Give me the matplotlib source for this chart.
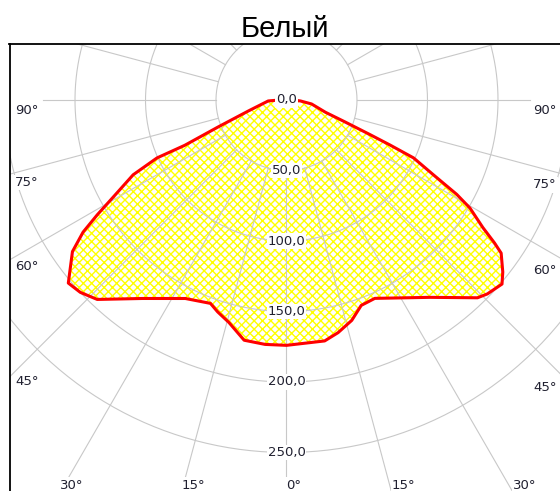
import numpy as np
import matplotlib.pyplot as plt

# данные кривой силы света
title = "Белый"
angles = [-90, -87, -74, -68.5, -66, -65.9, -64, -61, -58.75, -57, -54.7, -50, -47, -43.5,
          -36, -27, -20.5, -18, -14.5, -10, -5, 0, 9, 12.5, 16.5, 20, 24, 36, 44, 46,
          49.5, 51.5, 54.5, 55.5, 57, 59.5, 61, 63, 65.5, 66.5, 67.5, 69.5, 72.5, 81, 86, 90]
intensity = [5, 13, 28, 52, 79, 100.6, 121, 139, 157, 172, 186, 202, 200, 195,
             174, 158, 154, 158, 163, 173, 174, 174, 173, 169, 163, 155, 154, 173, 195, 198,
             201, 196, 187, 179, 166, 151, 138, 117, 99, 80, 64, 44, 29, 18, 10, 5]
rings = [0, 50, 100, 150, 200, 250]
ring_labels = ["0,0", "50,0", "100,0", "150,0", "200,0", "250,0"]
side_ticks = [90, 75, 60, 45]
bottom_ticks = [-30, -15, 0, 15, 30]

# пиксели -> данные
W, H = 560, 491
cx, cy, k = 286.5, 100, 1.41
grid_c = '#c8c8c8'
txt_c = '#202030'

fig = plt.figure(figsize=(W / 100, H / 100), dpi=100)
ax = fig.add_axes([9.5 / W, 1 - 520 / H, (600 - 9.5) / W, (520 - 44) / H])
ax.set_xlim((9.5 - cx) / k, (600 - cx) / k)
ax.set_ylim((cy - 520) / k, (cy - 44) / k)
ax.set_xticks([])
ax.set_yticks([])
for s in ['left', 'top']:
    ax.spines[s].set_linewidth(1.3)

# сетка: окружности
t = np.linspace(0, 2 * np.pi, 400)
for r in rings[1:]:
    ax.plot(r * np.sin(t), r * np.cos(t), color=grid_c, lw=0.8, zorder=2)

# сетка: лучи через 15°
for a in range(0, 360, 15):
    rad = np.deg2rad(a)
    rmax = 173 if a in (90, 270) else 450
    ax.plot([50 * np.sin(rad), rmax * np.sin(rad)],
            [-50 * np.cos(rad), -rmax * np.cos(rad)], color=grid_c, lw=0.8, zorder=2)

# кривая
th = np.deg2rad(angles)
r = np.array(intensity, dtype=float)
xs = r * np.sin(th)
ys = -r * np.cos(th)
plt.rcParams['hatch.linewidth'] = 1.0
ax.fill(np.r_[xs, 0], np.r_[ys, 0], facecolor='none', edgecolor='#ffff00',
        hatch='xxxx', lw=0, zorder=1)
ax.plot(xs, ys, color='red', lw=2.2, zorder=4)

# подписи колец
for rv, lab in zip(rings, ring_labels):
    ax.text(0, -rv, lab, ha='center', va='center', fontsize=9.5, color=txt_c, zorder=5,
            bbox=dict(facecolor='white', edgecolor='none', pad=0.8))

# подписи углов по бокам
for a in side_ticks:
    rad = np.deg2rad(a)
    yl = cy + 271.5 * np.cos(rad) / np.sin(rad) + 10
    ax.text((15 - cx) / k, (cy - yl) / k, f"{a}°", ha='left', va='center',
            fontsize=9.5, color=txt_c, zorder=5,
            bbox=dict(facecolor='white', edgecolor='none', pad=0.8))
    yr = cy + 276 * np.cos(rad) / np.sin(rad) + 11
    ax.text((557 - cx) / k, (cy - yr) / k, f"{a}°", ha='right', va='center',
            fontsize=9.5, color=txt_c, zorder=5,
            bbox=dict(facecolor='white', edgecolor='none', pad=0.8))

# подписи углов снизу
for a in bottom_ticks:
    rad = np.deg2rad(a)
    xb = cx + 378 * np.tan(rad) + 16 * np.sin(rad)
    ax.text((xb - cx) / k, (cy - 485) / k, f"{abs(a)}°", ha='left', va='center',
            fontsize=9.5, color=txt_c, zorder=5,
            bbox=dict(facecolor='white', edgecolor='none', pad=0.8))

fig.text(285 / W, 1 - 29 / H, title, ha='center', va='center', fontsize=21,
         family='Liberation Sans')

fig.savefig('out.png', dpi=100)
